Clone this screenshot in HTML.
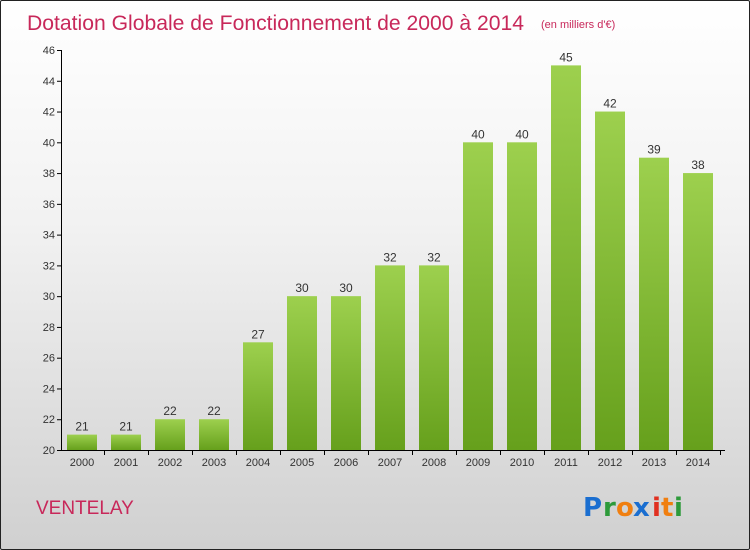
<!DOCTYPE html>
<html><head><meta charset="utf-8"><style>
html,body{margin:0;padding:0;}
body{width:750px;height:550px;overflow:hidden;font-family:"Liberation Sans",sans-serif;}
#frame{position:absolute;left:0;top:0;width:748px;height:548px;border:1px solid #222;background:linear-gradient(#ffffff 0%,#f2f2f2 40%,#d0d0d0 100%);border-radius:2px;}
</style></head><body>
<div id="frame">
<svg width="750" height="550" style="position:absolute;left:-1px;top:-1px" id="chart">
<defs><linearGradient id="g" x1="0" y1="0" x2="0" y2="1"><stop offset="0" stop-color="#9dd04e"/><stop offset="1" stop-color="#66a01c"/></linearGradient></defs>
<text x="27" y="30" font-size="21" fill="#c8285a" textLength="497" lengthAdjust="spacingAndGlyphs">Dotation Globale de Fonctionnement de 2000 à 2014</text>
<text x="541" y="28" font-size="11" fill="#c8285a">(en milliers d'€)</text>
<text x="36" y="514" font-size="19" fill="#c8285a">VENTELAY</text>
<g font-size="26" font-weight="bold" font-family="'DejaVu Sans',sans-serif">
<text x="583" y="516" fill="#1a6ed0">P</text><text x="603" y="516" fill="#2d9a3a">r</text><text x="616" y="516" fill="#f07f10">o</text><text x="633" y="516" fill="#1a6ed0">x</text><text x="652" y="516" fill="#e03020">i</text><text x="661" y="516" fill="#f07f10">t</text><text x="674" y="516" fill="#2d9a3a">i</text>
</g>
<g id="axes"></g><g id="bars"></g>
</svg></div>
<script>
const categories=["2000","2001","2002","2003","2004","2005","2006","2007","2008","2009","2010","2011","2012","2013","2014"];
const values=[21,21,22,22,27,30,30,32,32,40,40,45,42,39,38];
const yTicks=[20,22,24,26,28,30,32,34,36,38,40,42,44,46];
const NS="http://www.w3.org/2000/svg";
const y=v=>450-(v-20)*400/26;
const x=i=>82+i*44;
function mk(t,a,p){const e=document.createElementNS(NS,t);for(const k in a)e.setAttribute(k,a[k]);p.appendChild(e);return e;}
const ax=document.getElementById('axes'),bg=document.getElementById('bars');
const yl=mk('line',{x1:61.5,x2:61.5,y1:y(46),y2:450,stroke:'#000'},ax);


const xl=mk('line',{x1:61,x2:725,y1:450.5,y2:450.5,stroke:'#000'},ax);


yTicks.forEach(t=>{
 mk('line',{x1:57,x2:61,y1:y(t)+.5,y2:y(t)+.5,stroke:'#000'},ax);
 const tx=mk('text',{x:55,y:y(t)+4,'font-size':11,fill:'#333','text-anchor':'end'},ax);tx.textContent=t;
 
 
});
categories.forEach((c,i)=>{
 const r=mk('rect',{x:x(i)-15,y:y(values[i]),width:30,height:450-y(values[i]),fill:'url(#g)'},bg);
 
 
 const v=mk('text',{x:x(i),y:y(values[i])-4,'font-size':12,fill:'#333','text-anchor':'middle'},bg);v.textContent=values[i];
 
 
 mk('line',{x1:x(i)+22.5,x2:x(i)+22.5,y1:450,y2:455,stroke:'#000'},ax);
 const l=mk('text',{x:x(i),y:466,'font-size':11,fill:'#333','text-anchor':'middle'},ax);l.textContent=c;
 
 
});
</script>
</body></html>
